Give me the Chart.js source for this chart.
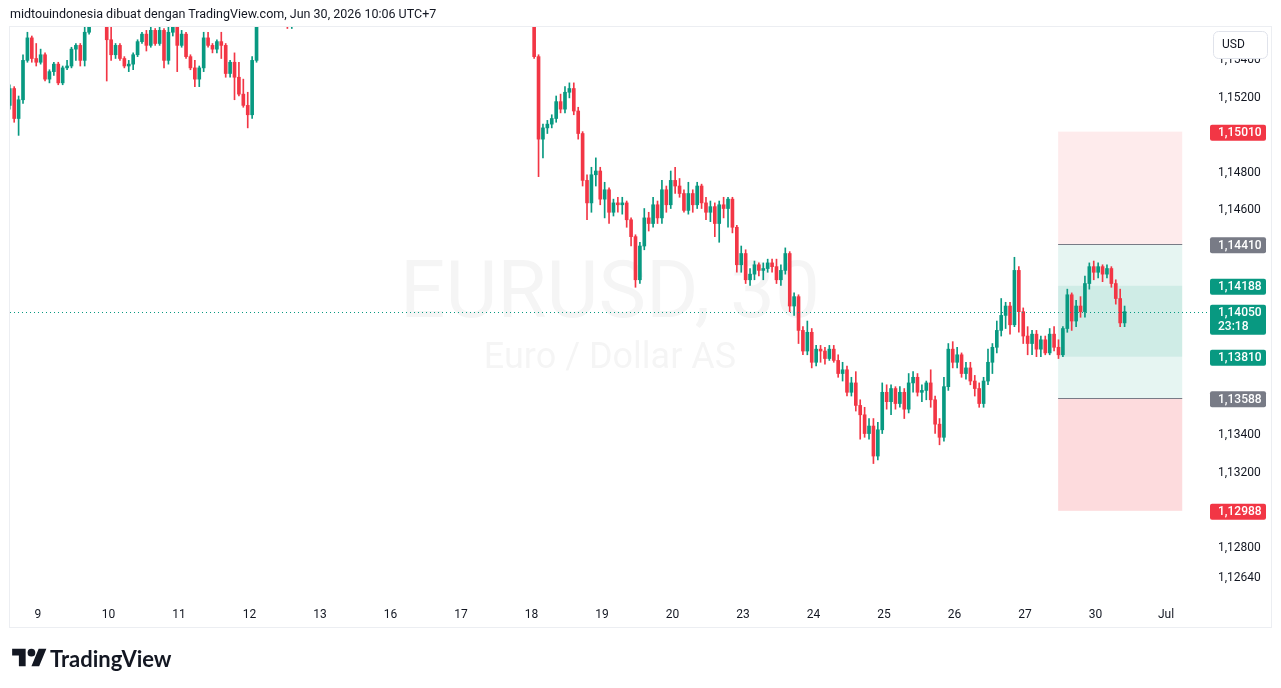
<!DOCTYPE html>
<html lang="id">
<head>
    <meta charset="UTF-8">
    <meta name="viewport" content="width=device-width, initial-scale=1.0">
    <title>EURUSD, 30</title>
    <script src="https://cdn.jsdelivr.net/npm/chart.js"></script>
    <style>
        html, body { margin: 0; padding: 0; background: #fff; overflow: hidden; }
        #wrap { position: relative; width: 1281px; height: 688px; }
        #box { position: absolute; left: 0; top: 0; width: 1281px; height: 688px; }
        .caption { position: absolute; left: 10px; top: 6px; font: 12.5px Roboto, sans-serif; color: #131722; white-space: nowrap; }
        .brand { position: absolute; left: 12px; top: 645px; display: flex; align-items: center; gap: 3px; font: 700 22px Lato, sans-serif; color: #131722; }
    </style>
</head>
<body>
<div id="wrap">
    <div id="box"><canvas id="priceChart"></canvas></div>
    <div class="caption">midtouindonesia dibuat dengan TradingView.com, Jun 30, 2026 10:06 UTC+7</div>
    <div class="brand">
        <svg width="35" height="27" viewBox="0 0 36 28"><path d="M14 22H7V11H0V4h14v18zM28 22h-8l7.5-18h8L28 22z" fill="#131722"/><circle cx="20" cy="8" r="4" fill="#131722"/></svg>
        <span>TradingView</span>
    </div>
</div>

<script>
    // time axis: one unit = one trading day, tick i sits on dayLabels[i]
    const dayLabels = ['9', '10', '11', '12', '13', '16', '17', '18', '19', '20', '23', '24', '25', '26', '27', '30', 'Jul'];
    const priceTicks = [1.154, 1.152, 1.148, 1.146, 1.134, 1.132, 1.128, 1.1264];

    const candleStep = 1 / 16;          // candle spacing in days
    const segAStart = -0.4;             // first visible candles (before price left the pane)
    const segBStart = 7.0375;           // price comes back into the pane on the 18th

    // segment A: 9th - 12th
    const openA = [1.1515, 1.1524, 1.1508, 1.1518, 1.1539, 1.1551, 1.1540, 1.1538, 1.1542, 1.1529,
        1.1533, 1.1537, 1.1527, 1.1535, 1.1536, 1.1545, 1.1547, 1.1539, 1.1554, 1.1562,
        1.1565, 1.1563, 1.1560, 1.1550, 1.1542, 1.1547, 1.1540, 1.1536, 1.1537, 1.1542,
        1.1549, 1.1553, 1.1547, 1.1555, 1.1548, 1.1555, 1.1539, 1.1554, 1.1557, 1.1547,
        1.1553, 1.1541, 1.1535, 1.1529, 1.1535, 1.1551, 1.1547, 1.1545, 1.1549, 1.1547,
        1.1532, 1.1538, 1.1530, 1.1521, 1.1515, 1.1510, 1.1539, 1.1558, 1.1563, 1.1566,
        1.1568, 1.1570, 1.1566, 1.1562, 1.1560];
    const highA = [1.1526, 1.1525, 1.1520, 1.1542, 1.1554, 1.1552, 1.1548, 1.1545, 1.1543, 1.1534,
        1.1538, 1.1538, 1.1536, 1.1539, 1.1546, 1.1548, 1.1548, 1.1557, 1.1565, 1.1568,
        1.1570, 1.1566, 1.1562, 1.1557, 1.1548, 1.1548, 1.1541, 1.1539, 1.1543, 1.1550,
        1.1554, 1.1555, 1.1557, 1.1556, 1.1558, 1.1556, 1.1558, 1.1562, 1.1560, 1.1555,
        1.1554, 1.1542, 1.1539, 1.1536, 1.1554, 1.1554, 1.1548, 1.1550, 1.1554, 1.1548,
        1.1539, 1.1543, 1.1538, 1.1529, 1.1522, 1.1541, 1.1561, 1.1566, 1.1568, 1.1570,
        1.1572, 1.1572, 1.1569, 1.1565, 1.1563];
    const lowA = [1.1513, 1.1506, 1.1499, 1.1516, 1.1538, 1.1538, 1.1536, 1.1537, 1.1528, 1.1527,
        1.1531, 1.1526, 1.1526, 1.1534, 1.1535, 1.1539, 1.1536, 1.1536, 1.1553, 1.1559,
        1.1560, 1.1559, 1.1528, 1.1539, 1.1540, 1.1539, 1.1535, 1.1533, 1.1534, 1.1541,
        1.1548, 1.1544, 1.1546, 1.1547, 1.1547, 1.1535, 1.1537, 1.1552, 1.1533, 1.1546,
        1.1540, 1.1534, 1.1525, 1.1525, 1.1533, 1.1546, 1.1543, 1.1543, 1.1540, 1.1530,
        1.1530, 1.1518, 1.1520, 1.1514, 1.1503, 1.1508, 1.1538, 1.1557, 1.1560, 1.1563,
        1.1565, 1.1564, 1.1558, 1.1556, 1.1556];
    const closeA = [1.1524, 1.1508, 1.1518, 1.1539, 1.1551, 1.1540, 1.1538, 1.1542, 1.1529, 1.1533,
        1.1537, 1.1527, 1.1535, 1.1536, 1.1545, 1.1547, 1.1539, 1.1554, 1.1562, 1.1565,
        1.1563, 1.1560, 1.1550, 1.1542, 1.1547, 1.1540, 1.1536, 1.1537, 1.1542, 1.1549,
        1.1553, 1.1547, 1.1555, 1.1548, 1.1555, 1.1539, 1.1554, 1.1557, 1.1547, 1.1553,
        1.1541, 1.1535, 1.1529, 1.1535, 1.1551, 1.1547, 1.1545, 1.1549, 1.1547, 1.1532,
        1.1538, 1.1530, 1.1521, 1.1515, 1.1510, 1.1539, 1.1558, 1.1563, 1.1566, 1.1568,
        1.1570, 1.1566, 1.1562, 1.1560, 1.1561];

    // segment B: 18th - 30th
    const openB = [1.1559, 1.1541, 1.1497, 1.1503, 1.1505, 1.1508, 1.1517, 1.1513, 1.1522, 1.1524,
        1.1512, 1.1500, 1.1475, 1.1463, 1.1478, 1.1480, 1.1465, 1.1470, 1.1458, 1.1463,
        1.1462, 1.1463, 1.1454, 1.1445, 1.1422, 1.1440, 1.1455, 1.1452, 1.1462, 1.1455,
        1.1470, 1.1462, 1.1475, 1.1472, 1.1468, 1.1459, 1.1468, 1.1462, 1.1472, 1.1463,
        1.1458, 1.1461, 1.1452, 1.1462, 1.1460, 1.1465, 1.1450, 1.1430, 1.1436, 1.1422,
        1.1425, 1.1430, 1.1427, 1.1428, 1.1431, 1.1429, 1.1422, 1.1427, 1.1436, 1.1408,
        1.1413, 1.1395, 1.1384, 1.1394, 1.1378, 1.1385, 1.1384, 1.1380, 1.1385, 1.1379,
        1.1372, 1.1374, 1.1362, 1.1367, 1.1355, 1.1350, 1.1340, 1.1344, 1.1328, 1.1342,
        1.1362, 1.1357, 1.1364, 1.1356, 1.1362, 1.1353, 1.1367, 1.1370, 1.1362, 1.1363,
        1.1367, 1.1358, 1.1345, 1.1338, 1.1365, 1.1385, 1.1378, 1.1382, 1.1372, 1.1375,
        1.1368, 1.1364, 1.1356, 1.1368, 1.1378, 1.1386, 1.1395, 1.1403, 1.1408, 1.1398,
        1.1427, 1.1405, 1.1392, 1.1388, 1.1393, 1.1385, 1.1390, 1.1383, 1.1393, 1.1386,
        1.1382, 1.1396, 1.1414, 1.1400, 1.1408, 1.1405, 1.1420, 1.1429, 1.1426, 1.1429,
        1.1425, 1.1428, 1.1420, 1.1412, 1.1399];
    const highB = [1.1562, 1.1542, 1.1505, 1.1507, 1.1510, 1.1520, 1.1521, 1.1525, 1.1527, 1.1527,
        1.1514, 1.1501, 1.1478, 1.1482, 1.1487, 1.1482, 1.1474, 1.1471, 1.1465, 1.1466,
        1.1466, 1.1464, 1.1455, 1.1446, 1.1442, 1.1460, 1.1458, 1.1466, 1.1464, 1.1475,
        1.1472, 1.1480, 1.1482, 1.1476, 1.1470, 1.1474, 1.1470, 1.1474, 1.1473, 1.1466,
        1.1464, 1.1463, 1.1464, 1.1466, 1.1466, 1.1466, 1.1451, 1.1440, 1.1438, 1.1428,
        1.1432, 1.1431, 1.1431, 1.1433, 1.1433, 1.1433, 1.1430, 1.1439, 1.1437, 1.1415,
        1.1414, 1.1397, 1.1400, 1.1396, 1.1387, 1.1387, 1.1386, 1.1387, 1.1387, 1.1382,
        1.1378, 1.1376, 1.1370, 1.1373, 1.1358, 1.1354, 1.1348, 1.1348, 1.1346, 1.1367,
        1.1366, 1.1366, 1.1365, 1.1365, 1.1364, 1.1372, 1.1373, 1.1372, 1.1366, 1.1368,
        1.1374, 1.1360, 1.1348, 1.1370, 1.1388, 1.1389, 1.1386, 1.1383, 1.1378, 1.1378,
        1.1371, 1.1367, 1.1370, 1.1385, 1.1388, 1.1400, 1.1412, 1.1410, 1.1410, 1.1434,
        1.1429, 1.1407, 1.1397, 1.1395, 1.1395, 1.1392, 1.1392, 1.1396, 1.1397, 1.1390,
        1.1397, 1.1417, 1.1415, 1.1411, 1.1413, 1.1424, 1.1431, 1.1432, 1.1431, 1.1430,
        1.1430, 1.1429, 1.1422, 1.1417, 1.1408];
    const lowB = [1.1540, 1.1477, 1.1487, 1.1500, 1.1503, 1.1506, 1.1511, 1.1511, 1.1519, 1.1510,
        1.1497, 1.1472, 1.1454, 1.1458, 1.1472, 1.1462, 1.1455, 1.1452, 1.1456, 1.1458,
        1.1457, 1.1450, 1.1440, 1.1418, 1.1420, 1.1438, 1.1448, 1.1450, 1.1452, 1.1452,
        1.1458, 1.1460, 1.1468, 1.1466, 1.1458, 1.1457, 1.1458, 1.1460, 1.1460, 1.1454,
        1.1453, 1.1445, 1.1442, 1.1455, 1.1450, 1.1447, 1.1426, 1.1426, 1.1420, 1.1419,
        1.1422, 1.1424, 1.1422, 1.1426, 1.1426, 1.1420, 1.1419, 1.1425, 1.1405, 1.1403,
        1.1388, 1.1382, 1.1382, 1.1375, 1.1376, 1.1378, 1.1377, 1.1379, 1.1378, 1.1370,
        1.1368, 1.1360, 1.1360, 1.1352, 1.1337, 1.1338, 1.1337, 1.1324, 1.1326, 1.1340,
        1.1353, 1.1350, 1.1353, 1.1354, 1.1348, 1.1351, 1.1362, 1.1360, 1.1357, 1.1358,
        1.1354, 1.1340, 1.1334, 1.1336, 1.1363, 1.1375, 1.1375, 1.1370, 1.1369, 1.1366,
        1.1360, 1.1354, 1.1354, 1.1366, 1.1372, 1.1383, 1.1392, 1.1396, 1.1393, 1.1397,
        1.1394, 1.1388, 1.1382, 1.1382, 1.1381, 1.1381, 1.1382, 1.1382, 1.1384, 1.1380,
        1.1381, 1.1394, 1.1395, 1.1397, 1.1402, 1.1402, 1.1417, 1.1422, 1.1423, 1.1421,
        1.1423, 1.1418, 1.1409, 1.1397, 1.1397];
    const closeB = [1.1541, 1.1497, 1.1503, 1.1505, 1.1508, 1.1517, 1.1513, 1.1522, 1.1524, 1.1512,
        1.1500, 1.1475, 1.1463, 1.1478, 1.1480, 1.1465, 1.1470, 1.1458, 1.1463, 1.1462,
        1.1463, 1.1454, 1.1445, 1.1422, 1.1440, 1.1455, 1.1452, 1.1462, 1.1455, 1.1470,
        1.1462, 1.1475, 1.1472, 1.1468, 1.1459, 1.1468, 1.1462, 1.1472, 1.1463, 1.1458,
        1.1461, 1.1452, 1.1462, 1.1460, 1.1465, 1.1450, 1.1430, 1.1436, 1.1422, 1.1425,
        1.1430, 1.1427, 1.1428, 1.1431, 1.1429, 1.1422, 1.1427, 1.1436, 1.1408, 1.1413,
        1.1395, 1.1384, 1.1394, 1.1378, 1.1385, 1.1384, 1.1380, 1.1385, 1.1379, 1.1372,
        1.1374, 1.1362, 1.1367, 1.1355, 1.1350, 1.1340, 1.1344, 1.1328, 1.1342, 1.1362,
        1.1357, 1.1364, 1.1356, 1.1362, 1.1353, 1.1367, 1.1370, 1.1362, 1.1363, 1.1367,
        1.1358, 1.1345, 1.1338, 1.1365, 1.1385, 1.1378, 1.1382, 1.1372, 1.1375, 1.1368,
        1.1364, 1.1356, 1.1368, 1.1378, 1.1386, 1.1395, 1.1403, 1.1408, 1.1398, 1.1427,
        1.1405, 1.1392, 1.1388, 1.1393, 1.1385, 1.1390, 1.1383, 1.1393, 1.1386, 1.1382,
        1.1396, 1.1414, 1.1400, 1.1408, 1.1405, 1.1420, 1.1429, 1.1426, 1.1429, 1.1425,
        1.1428, 1.1420, 1.1412, 1.1399, 1.1405];

    // position tool levels (top / bottom of each band)
    const zoneFrom = 14.47, zoneTo = 16.23;
    const zoneHigh = [1.15010, 1.14410, 1.14188, 1.13588];
    const zoneLow = [1.14410, 1.13588, 1.13810, 1.12988];
    const entryLevels = [1.14410, 1.13588];
    const markerPrices = [1.15010, 1.14410, 1.14188, 1.13810, 1.13588, 1.12988];
    const lastPrice = 1.14050;
    const countdown = '23:18';

    const UP = '#089981', DOWN = '#f23645', GREY = '#787b86', TEXT = '#131722';
    const zoneFills = ['rgba(242,54,69,0.1)', 'rgba(8,153,129,0.1)', 'rgba(8,153,129,0.1)', 'rgba(242,54,69,0.18)'];
    const markerColors = [DOWN, GREY, UP, UP, GREY, DOWN];

    const fmt = v => v.toFixed(5).replace('.', ',');

    function makeCandles(start, o, h, l, c) {
        return o.map((_, i) => ({ t: start + i * candleStep, o: o[i], h: h[i], l: l[i], c: c[i] }));
    }
    const candles = makeCandles(segAStart, openA, highA, lowA, closeA)
        .concat(makeCandles(segBStart, openB, highB, lowB, closeB));
    const candleColors = candles.map(k => k.c >= k.o ? UP : DOWN);

    function tag(ctx, left, py, w, h, color, lines) {
        ctx.fillStyle = color;
        ctx.beginPath();
        ctx.roundRect(left, py - 7, w, h, 2);
        ctx.fill();
        ctx.fillStyle = '#fff';
        ctx.font = '500 12px Roboto, sans-serif';
        ctx.textAlign = 'left';
        ctx.textBaseline = 'middle';
        lines.forEach((s, i) => ctx.fillText(s, left + 8, py + 1.5 + i * 14));
    }

    const paneDecor = {
        id: 'paneDecor',
        beforeDatasetsDraw(chart) {
            const { ctx, chartArea: a, scales: { x, y } } = chart;
            ctx.save();
            ctx.beginPath();
            ctx.rect(a.left, a.top, a.right - a.left, a.bottom - a.top);
            ctx.clip();

            const cx = (a.left + a.right) / 2, cy = y.getPixelForValue(lastPrice);
            ctx.fillStyle = 'rgba(19,23,34,0.045)';
            ctx.textAlign = 'center';
            ctx.textBaseline = 'alphabetic';
            ctx.font = '80px Roboto, sans-serif';
            ctx.fillText('EURUSD, 30', cx, cy + 5);
            ctx.font = '36px Roboto, sans-serif';
            ctx.fillText('Euro / Dollar AS', cx, cy + 56);

            const x0 = x.getPixelForValue(zoneFrom), x1 = x.getPixelForValue(zoneTo);
            zoneHigh.forEach((hi, i) => {
                const y0 = y.getPixelForValue(hi), y1 = y.getPixelForValue(zoneLow[i]);
                ctx.fillStyle = zoneFills[i];
                ctx.fillRect(x0, y0, x1 - x0, y1 - y0);
            });
            ctx.strokeStyle = GREY;
            ctx.lineWidth = 1;
            entryLevels.forEach(p => {
                const py = Math.round(y.getPixelForValue(p)) + 0.5;
                ctx.beginPath();
                ctx.moveTo(x0, py);
                ctx.lineTo(x1, py);
                ctx.stroke();
            });
            ctx.restore();
        },
        afterDatasetsDraw(chart) {
            const { ctx, chartArea: a, scales: { y } } = chart;
            const py = Math.round(y.getPixelForValue(lastPrice)) + 0.5;
            ctx.save();
            ctx.strokeStyle = UP;
            ctx.lineWidth = 1;
            ctx.setLineDash([1, 3]);
            ctx.beginPath();
            ctx.moveTo(a.left, py);
            ctx.lineTo(a.right, py);
            ctx.stroke();
            ctx.restore();
        },
        afterDraw(chart) {
            const { ctx, chartArea: a, scales: { y } } = chart;
            const axisLeft = y.left;
            ctx.save();
            markerPrices.forEach((p, i) => {
                tag(ctx, axisLeft, y.getPixelForValue(p), 56, 16, markerColors[i], [fmt(p)]);
            });
            tag(ctx, axisLeft, y.getPixelForValue(lastPrice), 56, 30, UP, [fmt(lastPrice), countdown]);

            // currency button
            ctx.fillStyle = '#fff';
            ctx.strokeStyle = '#e0e3eb';
            ctx.lineWidth = 1;
            ctx.beginPath();
            ctx.roundRect(axisLeft + 3.5, a.top + 4.5, 54, 27, 5);
            ctx.fill();
            ctx.stroke();
            ctx.fillStyle = TEXT;
            ctx.font = '12px Roboto, sans-serif';
            ctx.textAlign = 'left';
            ctx.textBaseline = 'middle';
            ctx.fillText('USD', axisLeft + 12, a.top + 18);

            // pane frame
            ctx.strokeStyle = '#eceef2';
            ctx.strokeRect(a.left - 0.5, a.top - 0.5, y.right - a.left + 1, chart.scales.x.bottom - a.top + 1);
            ctx.restore();
        }
    };

    Chart.defaults.font.family = 'Roboto, sans-serif';
    Chart.defaults.font.size = 12;
    Chart.defaults.color = TEXT;

    new Chart(document.getElementById('priceChart'), {
        type: 'bar',
        data: {
            datasets: [{
                label: 'wick',
                data: candles.map(k => ({ x: k.t, y: [k.l, k.h] })),
                backgroundColor: candleColors,
                barThickness: 1,
                grouped: false,
                order: 2
            }, {
                label: 'body',
                data: candles.map(k => ({ x: k.t, y: [k.o, k.c] })),
                backgroundColor: candleColors,
                barThickness: 3,
                minBarLength: 1,
                grouped: false,
                order: 1
            }]
        },
        options: {
            responsive: true,
            maintainAspectRatio: false,
            animation: false,
            events: [],
            layout: { padding: { left: 10, top: 27, right: 10, bottom: 61 } },
            plugins: { legend: { display: false }, tooltip: { enabled: false } },
            scales: {
                x: {
                    type: 'linear',
                    offset: false,
                    min: -0.397,
                    max: 16.624,
                    grid: { display: false, drawTicks: false },
                    border: { display: false },
                    afterBuildTicks: s => { s.ticks = dayLabels.map((_, i) => ({ value: i })); },
                    afterFit: s => { s.height = 29; },
                    ticks: {
                        autoSkip: false,
                        maxRotation: 0,
                        padding: 10,
                        callback: v => dayLabels[v]
                    }
                },
                y: {
                    position: 'right',
                    min: 1.12523,
                    max: 1.15568,
                    grid: { display: false, drawTicks: false },
                    border: { display: false },
                    afterBuildTicks: s => { s.ticks = priceTicks.map(v => ({ value: v })); },
                    afterFit: s => { s.width = 61; },
                    ticks: {
                        autoSkip: false,
                        padding: 8,
                        labelOffset: 1.5,
                        crossAlign: 'near',
                        callback: v => fmt(v)
                    }
                }
            }
        },
        plugins: [paneDecor]
    });
</script>
</body>
</html>
